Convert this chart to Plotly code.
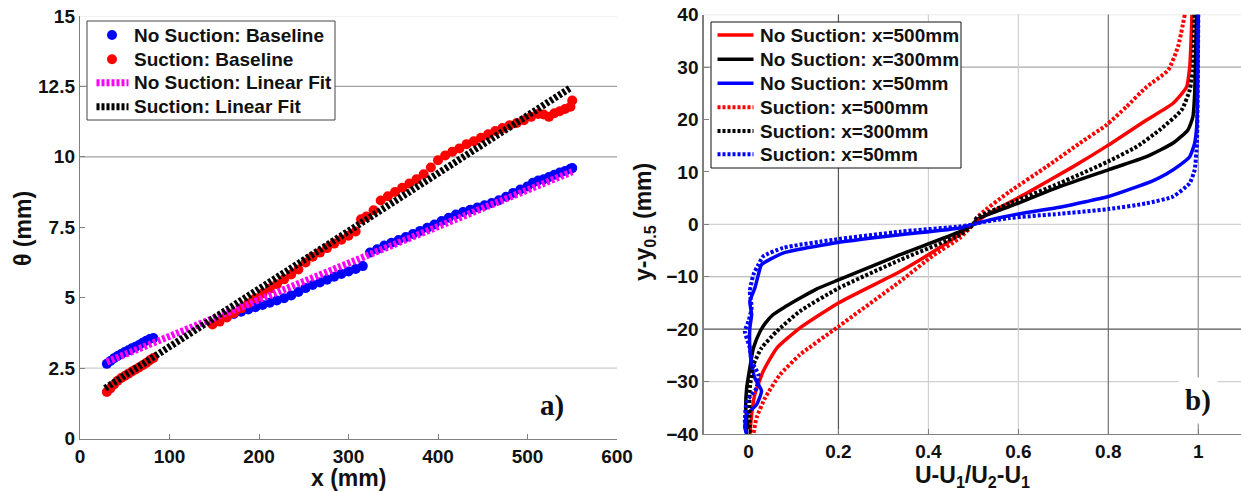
import plotly.graph_objects as go

# ---------------- Panel a) data ----------------
ns_base_x = [30, 34, 38, 42, 46, 50, 54, 58, 62, 66, 70, 74, 78, 82,
             164, 172, 180, 188, 196, 204, 212, 220, 228, 236, 244, 252, 260, 268, 276, 284, 292, 300, 308, 316,
             324, 332, 340, 348, 356, 364, 372, 380, 388, 396, 404, 412, 420, 428, 436, 444, 452, 460, 468, 476,
             484, 492, 500, 506, 512, 518, 524, 530, 536, 542, 548, 550]
ns_base_y = [2.65, 2.75, 2.85, 2.93, 3.0, 3.07, 3.13, 3.2, 3.26, 3.32, 3.4, 3.47, 3.53, 3.57,
             4.33, 4.42, 4.5, 4.58, 4.66, 4.74, 4.82, 4.9, 4.98, 5.08, 5.2, 5.34, 5.45, 5.54, 5.64, 5.74, 5.84, 5.93, 6.02, 6.12,
             6.6, 6.72, 6.85, 6.95, 7.05, 7.15, 7.26, 7.37, 7.48, 7.6, 7.72, 7.84, 7.95, 8.04, 8.12, 8.2, 8.28, 8.36, 8.46, 8.58,
             8.72, 8.84, 8.95, 9.08, 9.16, 9.2, 9.28, 9.36, 9.44, 9.5, 9.58, 9.6]

s_base_x = [30, 34, 38, 42, 46, 50, 54, 58, 62, 66, 70, 74, 78, 82,
            148, 156, 164, 172, 180, 188, 196, 204, 212, 220, 228, 236, 244, 252, 260, 268, 276, 284, 292, 300, 308,
            314, 320, 328, 336, 344, 352, 360, 368, 376, 384, 392, 400, 408, 416, 424, 432, 440, 448, 456, 464, 472,
            480, 488, 496, 504, 512, 518, 524, 530, 536, 542, 548, 550]
s_base_y = [1.65, 1.78, 1.92, 2.05, 2.15, 2.22, 2.3, 2.38, 2.45, 2.52, 2.6, 2.68, 2.78, 2.86,
            4.05, 4.15, 4.3, 4.45, 4.62, 4.8, 4.98, 5.15, 5.32, 5.48, 5.65, 5.82, 6.0, 6.25, 6.45, 6.6, 6.76, 6.92, 7.06, 7.2, 7.35,
            7.78, 7.88, 8.1, 8.45, 8.6, 8.75, 8.9, 9.05, 9.2, 9.38, 9.62, 9.88, 10.05, 10.18, 10.3, 10.45, 10.55, 10.68, 10.8, 10.92, 11.02,
            11.12, 11.2, 11.3, 11.42, 11.52, 11.5, 11.42, 11.55, 11.62, 11.7, 11.78, 12.0]

ns_fit_x = [30, 550]
ns_fit_y = [2.72, 9.47]
s_fit_x = [28, 548]
s_fit_y = [1.78, 12.45]

a_names = ["No Suction: Baseline", "Suction: Baseline", "No Suction: Linear Fit", "Suction: Linear Fit"]
a_xticks = [0, 100, 200, 300, 400, 500, 600]
a_yticks = [0, 2.5, 5, 7.5, 10, 12.5, 15]
a_ylabels = ["0", "2.5", "5", "7.5", "10", "12.5", "15"]

# ---------------- Panel b) data ----------------
ns500_y = [40, 35, 30, 26.2, 23.1, 19.9, 15.1, 11.0, 5.9, 1.8, 0, -2.0, -5.0, -9.0, -15.0, -19.8, -23.6, -28.0, -32.5, -36.3, -40]
ns500_u = [0.986, 0.984, 0.981, 0.974, 0.944, 0.885, 0.800, 0.722, 0.618, 0.529, 0.500, 0.468, 0.415, 0.337, 0.200, 0.114, 0.063, 0.033, 0.014, 0.007, 0.003]

ns300_y = [40, 25, 20.5, 18.0, 15.5, 12.9, 10.4, 7.2, 3.4, 0.9, 0, -1.4, -5.8, -10.6, -12.4, -14.1, -15.7, -17.2, -18.8, -20.4, -23.6, -27.4, -31.2, -35, -40]
ns300_u = [0.996, 0.992, 0.988, 0.977, 0.944, 0.885, 0.800, 0.692, 0.581, 0.507, 0.5, 0.47, 0.337, 0.200, 0.150, 0.114, 0.082, 0.055, 0.038, 0.026, 0.011, 0.003, -0.004, -0.006, 0.0]

ns50_y = [40, 19.3, 15.5, 12.9, 11.3, 9.6, 8.35, 6.9, 5.3, 4.35, 3.27, 2.25, 0.99, 0, -0.7, -2.0, -3.6, -5.5, -7.7, -9.6, -12.2, -14.7, -17.2,
          -19.8, -23.6, -26.8, -29.3, -31.8, -34.4, -36.3, -38.8, -40]
ns50_u = [1.0, 0.997, 0.992, 0.981, 0.959, 0.929, 0.900, 0.855, 0.800, 0.752, 0.692, 0.618, 0.544, 0.5, 0.47, 0.337, 0.188, 0.077, 0.029, 0.022, 0.014, 0.003, 0.007,
          0.003, 0.003, 0.007, 0.014, 0.029, 0.018, -0.004, -0.008, -0.004]

s500_y = [40, 33.9, 29.4, 26.2, 22.4, 18.95, 15.5, 11.0, 6.25, 1.8, 0, -2.6, -6.0, -10.9, -19.5, -24.9, -28.7, -33.1, -36.9, -40]
s500_u = [0.970, 0.955, 0.933, 0.885, 0.840, 0.796, 0.737, 0.663, 0.581, 0.514, 0.500, 0.470, 0.410, 0.337, 0.200, 0.114, 0.070, 0.037, 0.018, 0.011]

s300_y = [40, 29.4, 25.6, 21.8, 18.0, 14.8, 12.0, 7.85, 4.0, 1.2, 0, -2.0, -6.8, -12.2, -16.6, -20.4, -23.6, -26.8, -31.2, -36, -40]
s300_u = [0.992, 0.988, 0.981, 0.963, 0.914, 0.863, 0.800, 0.692, 0.581, 0.507, 0.5, 0.47, 0.337, 0.200, 0.114, 0.063, 0.029, 0.011, 0.003, 0.002, 0.003]

s50_y = [40, 15.5, 10.4, 7.85, 5.3, 4.0, 2.9, 2.0, 1.2, 0.2, 0, -0.4, -1.4, -2.95, -4.5, -6.1, -7.7, -9.6, -12.8, -15.9,
         -18.5, -20.4, -23.6, -26.1, -28.7, -31.2, -33.8, -37.6, -40]
s50_u = [1.0, 0.997, 0.992, 0.981, 0.944, 0.885, 0.800, 0.692, 0.581, 0.507, 0.5, 0.47, 0.337, 0.188, 0.077, 0.033, 0.022, 0.011, 0.003, 0.007,
         0.0, -0.008, 0.003, 0.007, 0.022, 0.018, -0.004, -0.008, -0.004]

b_names = ["No Suction: x=500mm", "No Suction: x=300mm", "No Suction: x=50mm",
           "Suction: x=500mm", "Suction: x=300mm", "Suction: x=50mm"]
b_xticks = [0, 0.2, 0.4, 0.6, 0.8, 1]
b_xlabels = ["0", "0.2", "0.4", "0.6", "0.8", "1"]
b_yticks = [-40, -30, -20, -10, 0, 10, 20, 30, 40]

# ---------------- Figure ----------------
W, H = 1241, 491
SANS = "Liberation Sans, Arial, sans-serif"
SERIF = "Liberation Serif, Times New Roman, serif"
DOT = "3px,2px"
BLUE, RED, MAG, BLK = "#0000FF", "#FF0000", "#FF00FF", "#000000"


def px(x):
    return x / W


def py(y):
    return (H - y) / H


fig = go.Figure()

# panel a
a_styles = [
    dict(mode="markers", marker=dict(color=BLUE, size=10, line=dict(width=0))),
    dict(mode="markers", marker=dict(color=RED, size=10, line=dict(width=0))),
    dict(mode="lines", line=dict(color=MAG, width=7, dash=DOT)),
    dict(mode="lines", line=dict(color=BLK, width=7, dash=DOT)),
]
a_data = [(ns_base_x, ns_base_y), (s_base_x, s_base_y), (ns_fit_x, ns_fit_y), (s_fit_x, s_fit_y)]
for (xx, yy), name, st in zip(a_data, a_names, a_styles):
    fig.add_trace(go.Scatter(x=xx, y=yy, name=name, showlegend=False, hoverinfo="skip", **st))

# panel b
b_data = [(ns500_u, ns500_y), (ns300_u, ns300_y), (ns50_u, ns50_y),
          (s500_u, s500_y), (s300_u, s300_y), (s50_u, s50_y)]
b_cols = [RED, BLK, BLUE, RED, BLK, BLUE]
b_dash = ["solid", "solid", "solid", DOT, DOT, DOT]
for (u, yy), name, col, dash in zip(b_data, b_names, b_cols, b_dash):
    fig.add_trace(go.Scatter(x=u, y=yy, mode="lines", name=name, xaxis="x2", yaxis="y2", showlegend=False,
                             hoverinfo="skip",
                             line=dict(color=col, width=4 if dash != "solid" else 3.5, dash=dash,
                                       shape="spline", smoothing=0.5)))

shapes = []
# panel a horizontal grid lines
for val, col in [(15, "#e4e4e4"), (12.5, "#a0a0a0"), (10, "#a0a0a0"), (2.5, "#cccccc")]:
    shapes.append(dict(type="line", xref="x domain", yref="y", x0=0, x1=1, y0=val, y1=val,
                       line=dict(color=col, width=1.2), layer="below"))
# panel b grid lines
for val, col in [(40, "#e4e4e4"), (30, "#a8a8a8"), (0, "#d0d0d0"), (-10, "#a8a8a8"), (-20, "#555555"), (-30, "#d0d0d0")]:
    shapes.append(dict(type="line", xref="x2 domain", yref="y2", x0=0, x1=1, y0=val, y1=val,
                       line=dict(color=col, width=1.2), layer="below"))
for val, col in [(0.2, "#555555"), (0.4, "#d0d0d0"), (0.6, "#d0d0d0"), (0.8, "#707070"), (1.0, "#909090")]:
    shapes.append(dict(type="line", xref="x2", yref="y2 domain", x0=val, x1=val, y0=0, y1=1,
                       line=dict(color=col, width=1.2), layer="below"))

annotations = []
LEG_FONT = dict(family=SANS, size=19, color="#111111", weight="bold")

# legend a (drawn as box + samples + text)
shapes.append(dict(type="rect", xref="paper", yref="paper", x0=px(87), x1=px(335), y0=py(120), y1=py(21),
                   line=dict(color="#444444", width=1), fillcolor="white", layer="above"))
rows_a = [35, 59.3, 82.7, 106.7]
for i, (name, st) in enumerate(zip(a_names, a_styles)):
    yc = rows_a[i]
    if st["mode"] == "markers":
        r = 5
        shapes.append(dict(type="circle", xref="paper", yref="paper", x0=px(112 - r), x1=px(112 + r),
                           y0=py(yc + r), y1=py(yc - r), fillcolor=st["marker"]["color"],
                           line=dict(width=0), layer="above"))
    else:
        shapes.append(dict(type="line", xref="paper", yref="paper", x0=px(96.5), x1=px(128.5), y0=py(yc), y1=py(yc),
                           line=dict(color=st["line"]["color"], width=7, dash=DOT), layer="above"))
    annotations.append(dict(text=name, x=px(132), y=py(yc), xref="paper", yref="paper", showarrow=False,
                            xanchor="left", yanchor="middle", font=LEG_FONT))

# legend b
shapes.append(dict(type="rect", xref="paper", yref="paper", x0=px(711), x1=px(961), y0=py(168), y1=py(22),
                   line=dict(color="#111111", width=1), fillcolor="white", layer="above"))
rows_b = [35, 59.3, 83.3, 107.3, 131, 154.3]
for i, name in enumerate(b_names):
    yc = rows_b[i]
    shapes.append(dict(type="line", xref="paper", yref="paper", x0=px(717.5), x1=px(753.5), y0=py(yc), y1=py(yc),
                       line=dict(color=b_cols[i], width=4 if b_dash[i] != "solid" else 3.5, dash=b_dash[i]),
                       layer="above"))
    annotations.append(dict(text=name, x=px(757.5), y=py(yc), xref="paper", yref="paper", showarrow=False,
                            xanchor="left", yanchor="middle", font=LEG_FONT))

axis_common = dict(showgrid=False, zeroline=False, showline=True, linecolor="#808080", linewidth=1.2,
                   ticks="inside", ticklen=5, tickcolor="#808080", automargin=False,
                   tickfont=dict(family=SANS, size=19, color="#111111", weight="bold"))

fig.update_layout(
    width=W, height=H,
    margin=dict(l=0, r=0, t=0, b=0, autoexpand=False),
    paper_bgcolor="white", plot_bgcolor="white",
    showlegend=False,
    hovermode=False,
    xaxis=dict(domain=[px(80), px(617)], range=[0, 600], tickvals=a_xticks, anchor="y", **axis_common),
    yaxis=dict(domain=[py(438.5), py(16)], range=[0, 15], tickvals=a_yticks, ticktext=a_ylabels,
               anchor="x", **axis_common),
    xaxis2=dict(domain=[px(703.5), 1.0], range=[-0.1, 1.095], tickvals=b_xticks, ticktext=b_xlabels,
                anchor="y2", **axis_common),
    yaxis2=dict(domain=[py(434), py(14.6)], range=[-40, 40], tickvals=b_yticks, anchor="x2",
                **axis_common),
    shapes=shapes,
)

TITLE_FONT = dict(family=SANS, size=23, color="#111111", weight="bold")
annotations += [
    dict(text="x (mm)", x=px(348), y=py(478), xref="paper", yref="paper", showarrow=False,
         xanchor="center", yanchor="middle", font=TITLE_FONT),
    dict(text="θ (mm)", x=px(23), y=py(229), xref="paper", yref="paper", showarrow=False, textangle=-90,
         xanchor="center", yanchor="middle", font=TITLE_FONT),
    dict(text="U-U<sub>1</sub>/U<sub>2</sub>-U<sub>1</sub>", x=px(972), y=py(476), xref="paper", yref="paper",
         showarrow=False, xanchor="center", yanchor="middle", font=TITLE_FONT),
    dict(text="y-y<sub>0.5</sub> (mm)", x=px(645), y=py(222), xref="paper", yref="paper", showarrow=False,
         textangle=-90, xanchor="center", yanchor="middle", font=TITLE_FONT),
    dict(text="a)", x=px(552), y=py(405), xref="paper", yref="paper", showarrow=False,
         xanchor="center", yanchor="middle", font=dict(family=SERIF, size=29, color="#111111", weight="bold")),
    dict(text="b)", x=px(1198), y=py(400), xref="paper", yref="paper", showarrow=False,
         xanchor="center", yanchor="middle", bgcolor="white", borderpad=6,
         font=dict(family=SERIF, size=29, color="#111111", weight="bold")),
]
fig.update_layout(annotations=annotations)

fig.write_html("out.html", config={"displayModeBar": False, "staticPlot": True},
               post_script="document.body.style.margin='0px';document.body.style.overflow='hidden';")
